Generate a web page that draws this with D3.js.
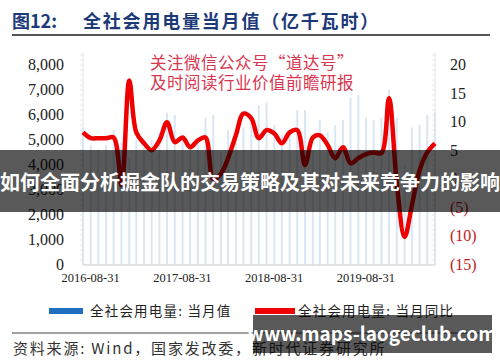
<!DOCTYPE html>
<html>
<head>
<meta charset="utf-8">
<script src="https://cdn.jsdelivr.net/npm/d3@7"></script>
<style>
  body { margin: 0; background: #fff; }
  svg { display: block; }
</style>
</head>
<body>
<div id="chart"></div>
<script>
// monthly values, 2016-08 .. 2020-06
const months = d3.range(47).map(i => new Date(2016, 7 + i, 1));
const monthValue = [
  5500, 4800, 4600, 4800, 5400, 4900, 4300, 5000, 4700, 5000, 5300, 6100,
  6000, 5100, 4900, 5100, 5900, 6000, 4500, 5400, 5000, 5500, 5700, 6400,
  6500, 5600, 5200, 5400, 6200, 6200, 4600, 5800, 5300, 5600, 5800, 6700,
  6800, 5900, 5800, 5900, 7000, 5900, 4000, 5500, 5600, 6000, 6100
];
const yoyValue = [
  8.2, 7.2, 7.2, 7.2, 7.3, -1.0, 17.3, 8.2, 6.3, 5.1, 6.8, 10.0,
  6.5, 7.3, 5.6, 6.8, 7.3, 0.0, 1.0, 3.7, 7.7, 11.5, 10.7, 7.2,
  8.6, 8.0, 6.3, 8.2, 8.6, 2.5, 7.3, 7.7, 6.0, 3.7, 5.6, 2.8,
  3.7, 4.4, 4.7, 4.6, 14.2, -0.7, -10.1, -4.6, 1.6, 4.7, 6.3
];
const leftTicks = [0, 1000, 2000, 3000, 4000, 5000, 6000, 7000, 8000];
const rightTicks = [-15, -10, -5, 0, 5, 10, 15, 20];
const xTickDates = [new Date(2016, 7, 31), new Date(2017, 7, 31), new Date(2018, 7, 31), new Date(2019, 7, 31)];
const xTickLabels = ["2016-08-31", "2017-08-31", "2018-08-31", "2019-08-31"];

const W = 500, H = 362;
const plot = { left: 83, right: 435, top: 65, bottom: 265 };
const serif = "'Liberation Serif', 'Times New Roman', serif";
const cjk = "'Noto Sans CJK SC', sans-serif";

const svg = d3.select("#chart").append("svg")
    .attr("width", W).attr("height", H);

const x = d3.scaleTime()
    .domain([months[0], months[months.length - 1]])
    .range([plot.left, plot.right]);
const yL = d3.scaleLinear().domain([0, 8000]).range([plot.bottom, plot.top]);
const yR = d3.scaleLinear().domain([-15, 20]).range([plot.bottom, plot.top]);

// title
svg.append("text").attr("x", 12).attr("y", 28)
    .attr("font-family", cjk).attr("font-weight", "bold").attr("font-size", 18)
    .attr("fill", "#1d3a78").text("图12:");
svg.append("text").attr("x", 83).attr("y", 28)
    .attr("font-family", cjk).attr("font-weight", "bold").attr("font-size", 18)
    .attr("letter-spacing", 1.8)
    .attr("fill", "#1d3a78").text("全社会用电量当月值（亿千瓦时）");
svg.append("line").attr("x1", 12).attr("x2", 490).attr("y1", 35).attr("y2", 35)
    .attr("stroke", "#555").attr("stroke-width", 2);

// axes frames with small ticks
const gAxis = svg.append("g");
[plot.left, plot.right].forEach(px => {
    gAxis.append("line").attr("x1", px).attr("x2", px)
        .attr("y1", plot.top - 12).attr("y2", plot.bottom)
        .attr("stroke", "#e2e2e2").attr("stroke-width", 1);
    d3.range(plot.top - 10, plot.bottom, 5).forEach(ty => {
        gAxis.append("line").attr("x1", px - 3).attr("x2", px)
            .attr("y1", ty).attr("y2", ty)
            .attr("stroke", "#e8e8e8").attr("stroke-width", 1);
    });
});

// bars
svg.append("g").selectAll("line")
    .data(monthValue).enter().append("line")
    .attr("x1", (d, i) => x(months[i])).attr("x2", (d, i) => x(months[i]))
    .attr("y1", yL(0)).attr("y2", d => yL(d))
    .attr("stroke", "#d9e7f4").attr("stroke-width", 2);

// baseline
svg.append("line").attr("x1", plot.left).attr("x2", plot.right)
    .attr("y1", plot.bottom).attr("y2", plot.bottom)
    .attr("stroke", "#dadada").attr("stroke-width", 1.5);

// watermark
svg.append("text").attr("x", 150).attr("y", 69)
    .attr("font-family", cjk).attr("font-size", 16.5).attr("fill", "#d9364f")
    .attr("letter-spacing", 0.5)
    .text("关注微信公众号“道达号”");
svg.append("text").attr("x", 150).attr("y", 89)
    .attr("font-family", cjk).attr("font-size", 16.5).attr("fill", "#d9364f")
    .attr("letter-spacing", 0.5)
    .text("及时阅读行业价值前瞻研报");

// yoy line
const line = d3.line()
    .x((d, i) => x(months[i]))
    .y(d => yR(d))
    .curve(d3.curveCatmullRom.alpha(0.5));
svg.append("path").datum(yoyValue)
    .attr("d", line)
    .attr("fill", "none").attr("stroke", "#ee0000").attr("stroke-width", 4.5)
    .attr("stroke-linejoin", "round");

// left tick labels
svg.append("g").selectAll("text").data(leftTicks).enter().append("text")
    .attr("x", 64).attr("y", d => yL(d) + 5)
    .attr("text-anchor", "end")
    .attr("font-family", serif).attr("font-size", 16).attr("fill", "#222")
    .text(d => d3.format(",")(d));

// right tick labels
svg.append("g").selectAll("text").data(rightTicks).enter().append("text")
    .attr("x", 450).attr("y", d => yR(d) + 5)
    .attr("font-family", serif).attr("font-size", 16)
    .attr("fill", d => d < 0 ? "#c41a1a" : "#222")
    .text(d => d < 0 ? "(" + (-d) + ")" : d);

// x tick labels
svg.append("g").selectAll("text").data(xTickDates).enter().append("text")
    .attr("x", d => x(d)).attr("y", 282)
    .attr("text-anchor", "middle")
    .attr("font-family", serif).attr("font-size", 12.5).attr("fill", "#222")
    .text((d, i) => xTickLabels[i]);

// legend
svg.append("rect").attr("x", 49).attr("y", 308).attr("width", 34).attr("height", 6)
    .attr("fill", "#1f6fc0");
svg.append("text").attr("x", 90).attr("y", 316)
    .attr("font-family", cjk).attr("font-size", 13.5).attr("fill", "#222")
    .attr("letter-spacing", 1.2)
    .text("全社会用电量: 当月值");
svg.append("rect").attr("x", 255).attr("y", 308).attr("width", 40).attr("height", 6)
    .attr("fill", "#ee0000");
svg.append("text").attr("x", 298).attr("y", 316)
    .attr("font-family", cjk).attr("font-size", 13.5).attr("fill", "#222")
    .attr("letter-spacing", 1.2)
    .text("全社会用电量: 当月同比");

// source
svg.append("line").attr("x1", 12).attr("x2", 490).attr("y1", 333).attr("y2", 333)
    .attr("stroke", "#444").attr("stroke-width", 1.2);
svg.append("text").attr("x", 13).attr("y", 354)
    .attr("font-family", cjk).attr("font-size", 15).attr("fill", "#333")
    .attr("letter-spacing", 1.8)
    .text("资料来源: Wind，国家发改委，新时代证券研究所");

// overlay banners
svg.append("rect").attr("x", 0).attr("y", 150).attr("width", W).attr("height", 62)
    .attr("fill", "rgba(0,0,0,0.65)");
svg.append("text").attr("x", W / 2).attr("y", 190)
    .attr("text-anchor", "middle")
    .attr("font-family", cjk).attr("font-weight", "bold").attr("font-size", 20)
    .attr("fill", "#fff")
    .text("如何全面分析掘金队的交易策略及其对未来竞争力的影响");
svg.append("rect").attr("x", 253).attr("y", 315).attr("width", 239).attr("height", 38)
    .attr("fill", "rgba(0,0,0,0.65)");
svg.append("text").attr("x", 372).attr("y", 341)
    .attr("text-anchor", "middle")
    .attr("font-family", cjk).attr("font-weight", "bold").attr("font-size", 19)
    .attr("fill", "#fff")
    .text("www.maps-laogeclub.com");
</script>
</body>
</html>
